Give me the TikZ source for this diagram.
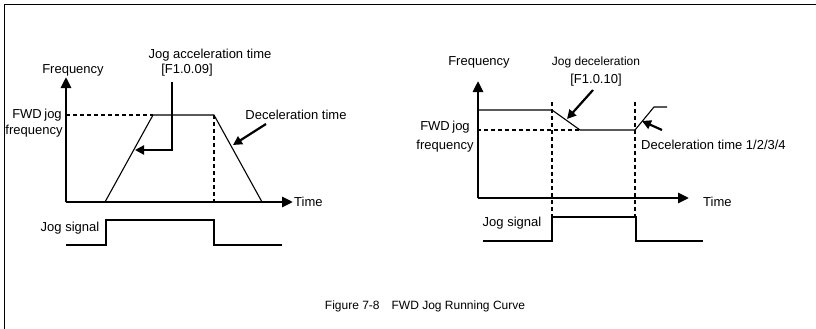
\documentclass[tikz,border=0pt]{standalone}
\usepackage{fontspec}
\setmainfont{Liberation Sans}
\usetikzlibrary{arrows.meta}
\begin{document}
\begin{tikzpicture}[x=1pt,y=-1pt,
  lbl/.style={font=\fontsize{13}{15}\selectfont, inner sep=0pt},
  thin/.style={line width=1.1pt},
  axis/.style={line width=2.7pt,-{Triangle[length=11pt,width=10pt]}},
  dsh/.style={line width=1.3pt,dash pattern=on 4pt off 3pt},
  ann/.style={line width=2.2pt,-{Triangle[length=9pt,width=9pt]}}]
\useasboundingbox (0,0) rectangle (816,329);
\draw[line width=1pt] (4,329) -- (4,5) -- (816,5);

% ---------- left plot ----------
\coordinate (LO) at (66,202);
\coordinate (LY) at (66,77);
\coordinate (LX) at (293,202);
\draw[axis] (LO) -- (LY);
\draw[axis] (LO) -- (LX);
\node[lbl] (lfreq) at (73,70) {Frequency};
\node[lbl,anchor=west] (ltime) at (294,202) {Time};
\node[lbl] (lacc1) at (210,55) {Jog acceleration time};
\node[lbl] (lacc2) at (187,70) {[F1.0.09]};
\node[lbl] (lfwd1) at (37,115) {FWD\hspace{2.5pt}jog};
\node[lbl] (lfwd2) at (34,131) {frequency};
\node[lbl] (ldec) at (296,115) {Deceleration time};
\coordinate (La) at (105,202);
\coordinate (Lb) at (153,115);
\coordinate (Lc) at (214,115);
\coordinate (Ld) at (262,202);
\coordinate (Lf) at (66,115);
\draw[thin] (La) -- (Lb) -- (Lc) -- (Ld);
\draw[dsh] (Lf) -- (Lb);
\draw[dsh] (Lc) -- (Lc |- LO);
\coordinate (Lp1) at (172,82);
\coordinate (Lp2) at (172,150);
\coordinate (Lp3) at (135,150);
\draw[ann] (Lp1) -- (Lp2) -- (Lp3);
\coordinate (Lq1) at (266,124);
\coordinate (Lq2) at (233,145);
\draw[ann] (Lq1) -- (Lq2);
% jog signal
\node[lbl] (ljog) at (70,228) {Jog signal};
\coordinate (Ls0) at (66,245);
\coordinate (Ls1) at (106,245);
\coordinate (Ls2) at (106,220);
\coordinate (Ls3) at (214,220);
\coordinate (Ls4) at (214,245);
\coordinate (Ls5) at (282,245);
\draw[thin] (Ls0) -- (Ls1) -- (Ls2) -- (Ls3) -- (Ls4) -- (Ls5);

% ---------- right plot ----------
\coordinate (RO) at (478,198);
\coordinate (RY) at (478,81);
\coordinate (RX) at (689,198);
\draw[axis] (RO) -- (RY);
\draw[axis] (RO) -- (RX);
\node[lbl] (rfreq) at (479,62) {Frequency};
\node[lbl,anchor=west] (rtime) at (703,202) {Time};
\node[lbl,font=\fontsize{12}{14}\selectfont] (rdec1) at (596,62) {Jog deceleration};
\node[lbl] (rdec2) at (596,80) {[F1.0.10]};
\node[lbl] (rfwd1) at (445,127) {FWD\hspace{2.5pt}jog};
\node[lbl] (rfwd2) at (445,146) {frequency};
\node[lbl,anchor=west] (rdt) at (641,145) {Deceleration time 1/2/3/4};
\coordinate (Ra) at (478,110);
\coordinate (Rb) at (552,110);
\coordinate (Rc) at (580,130);
\coordinate (Rd) at (635,130);
\coordinate (Re) at (654,107);
\coordinate (Rf) at (667,107);
\coordinate (Rg) at (477,130);
\draw[thin] (Ra) -- (Rb) -- (Rc) -- (Rd) -- (Re) -- (Rf);
\draw[dsh] (Rg) -- (Rc);
\coordinate (Rv1a) at (552,102);
\coordinate (Rv1b) at (552,217);
\coordinate (Rv2a) at (635,102);
\coordinate (Rv2b) at (635,217);
\draw[dsh] (Rv1a) -- (Rv1b);
\draw[dsh] (Rv2a) -- (Rv2b);
\coordinate (Rp1) at (593,90);
\coordinate (Rp2) at (567,119);
\draw[ann] (Rp1) -- (Rp2);
\coordinate (Rq1) at (662,130);
\coordinate (Rq2) at (642,121);
\draw[ann] (Rq1) -- (Rq2);
% jog signal
\node[lbl] (rjog) at (512,223) {Jog signal};
\coordinate (Rs0) at (483,241);
\coordinate (Rs1) at (552,241);
\coordinate (Rs2) at (552,217);
\coordinate (Rs3) at (636,217);
\coordinate (Rs4) at (636,241);
\coordinate (Rs5) at (703,241);
\draw[thin] (Rs0) -- (Rs1) -- (Rs2) -- (Rs3) -- (Rs4) -- (Rs5);

% caption
\node[lbl,font=\fontsize{12}{14}\selectfont] (cap) at (425,306) {Figure 7-8\hspace{12pt}FWD Jog Running Curve};
\end{tikzpicture}
\end{document}
